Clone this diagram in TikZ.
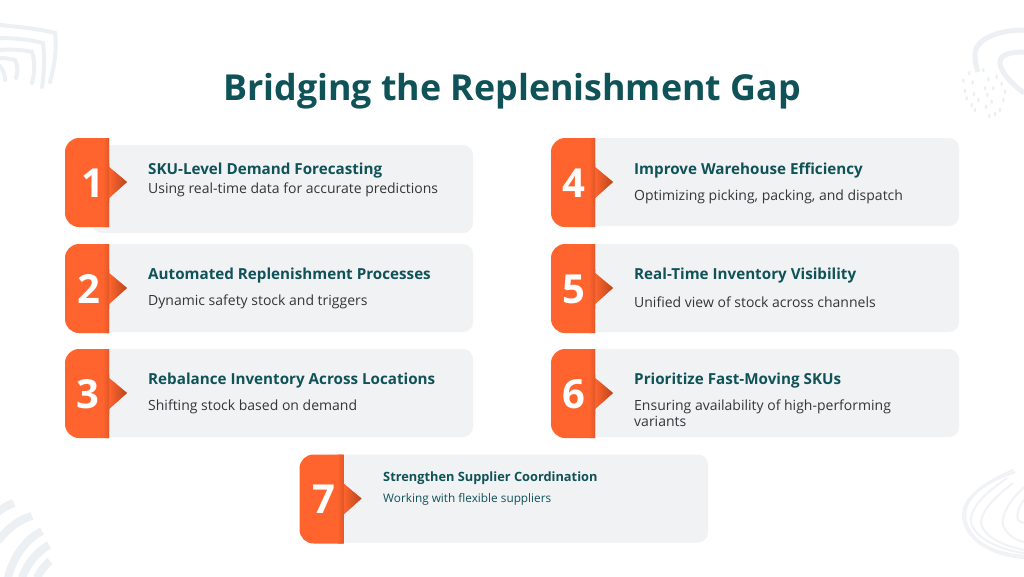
\documentclass[tikz,border=0pt]{standalone}
\usepackage{fontspec}
\setmainfont{Open Sans}
\definecolor{cardfill}{HTML}{F1F2F4}
\definecolor{orangeb}{HTML}{FF642E}
\definecolor{oranged}{HTML}{B8461E}
\definecolor{teal}{HTML}{0F5257}
\definecolor{bodytxt}{HTML}{333638}
\definecolor{deco}{HTML}{EDF0F3}
\definecolor{decolite}{HTML}{F0F2F5}
\tikzset{
  x=1pt,y=-1pt,
  card/.style={fill=cardfill,rounded corners=10pt,draw=none},
  num/.style={text=white,font=\fontsize{40}{40}\selectfont\bfseries,inner sep=0pt},
  head/.style={text=teal,anchor=west,inner sep=0pt,font=\fontsize{15.2}{18}\selectfont\bfseries},
  desc/.style={text=bodytxt,anchor=west,inner sep=0pt,align=left,font=\fontsize{14}{16.5}\selectfont},
  headsm/.style={text=teal,anchor=west,inner sep=0pt,font=\fontsize{12.8}{16}\selectfont\bfseries},
  descsm/.style={text=teal,anchor=west,inner sep=0pt,font=\fontsize{11.8}{14}\selectfont},
  title/.style={text=teal,inner sep=0pt,font=\fontsize{35.8}{44}\selectfont\bfseries},
  decoA/.style={draw=deco,line width=4pt,line cap=round},
  decoB/.style={draw=deco,line width=8pt},
  decoC/.style={draw=decolite,line width=2pt},
  decoD/.style={fill=deco,draw=none},
}
% #1 name, #2 left x of badge, #3 top y of badge, #4 number, #5 right edge of card, #6 card y offset, #7 digit x offset
\newcommand{\stepcard}[7]{%
  \fill[card] (#2+27,#3+#6) rectangle (#5,#3+#6+88);
  \fill[orangeb] (#2+44,#3) {[rounded corners=14pt] -- (#2,#3) -- (#2,#3+89)} -- (#2+44,#3+89)
     -- (#2+44,#3+60) -- (#2+62,#3+44) -- (#2+44,#3+29) -- cycle;
  \begin{scope}
    \clip (#2+30,#3) -- (#2+44,#3) -- (#2+44,#3+29) -- (#2+62,#3+44) -- (#2+44,#3+60) -- (#2+44,#3+89) -- (#2+30,#3+89) -- cycle;
    \shade[left color=orangeb,right color=orangeb!60!oranged] (#2+38,#3) rectangle (#2+44,#3+89);
    \shade[left color=orangeb,right color=oranged] (#2+44,#3+25) rectangle (#2+62,#3+64);
    \shade[left color=orangeb,right color=orangeb!55!oranged] (#2+38,#3+25) rectangle (#2+44,#3+64);
  \end{scope}
  \node[num] (#1) at (#2+#7,#3+45) {#4};
}
\begin{document}
\begin{tikzpicture}
\useasboundingbox (0,0) rectangle (1024,576);
\fill[white] (0,0) rectangle (1024,576);
% corner decoration, top left
\draw[decoA] (0,25) .. controls (20,27) and (40,29) .. (55,33) .. controls (57,50) and (54,68) .. (50,82);
\draw[decoA] (0,38) .. controls (15,38) and (32,40) .. (43,43) .. controls (45,58) and (44,74) .. (42,87);
\draw[decoA] (0,50) .. controls (12,49) and (24,50) .. (32,52) .. controls (35,62) and (35,72) .. (32,83);
\draw[decoA] (0,58) .. controls (6,58) and (11,59) .. (15,60) .. controls (18,66) and (18,72) .. (16,78);
\draw[decoA] (0,66) .. controls (3,70) and (5,75) .. (5,80);
% corner decoration, top right
\draw[decoB,line width=5pt] (1024,30) .. controls (1000,30) and (975,38) .. (975,55) .. controls (975,62) and (976,66) .. (978,72);
\draw[decoB,line width=5pt] (1024,52) .. controls (1012,52) and (1000,54) .. (1000,62) .. controls (1000,72) and (1012,84) .. (1024,93);
\foreach \dx/\dy in {40/182,45/213,50/235,58/160,68/187,72/222,65/255,75/270,85/240,100/150,115/178,105/205,112/225,108/260,118/288,135/282,125/245,130/205,140/170,155/192,160/240,165/215,150/270}
  \fill[decoD] (950+\dx/3,20+\dy/3) ellipse[x radius=1.3,y radius=2.2];
% corner decoration, bottom left
\draw[decoB] (-2,512) .. controls (3,508) and (8,505) .. (14,503);
\draw[decoB] (-2,541) .. controls (8,528) and (20,519) .. (32,516);
\draw[decoB] (8,578) .. controls (12,560) and (24,540) .. (42,531);
\draw[decoB] (22,578) .. controls (26,566) and (36,552) .. (49,545);
\draw[decoB] (37,578) .. controls (40,572) and (44,566) .. (50,561);
% corner decoration, bottom right
\foreach \o in {0,2.2}{
  \draw[decoC] (1013+\o,470+\o) .. controls (990,480) and (963+\o,495) .. (963+\o,515) .. controls (963+\o,535) and (985,555-\o) .. (1024,558-\o);
}
\draw[decoC] (1007,478) .. controls (990,490) and (970,505) .. (971,522) .. controls (974,538) and (1000,550) .. (1024,553);
\draw[decoC] (1013,483) .. controls (1000,493) and (980,510) .. (981,524) .. controls (985,538) and (1005,546) .. (1024,550);
\draw[decoC] (1024,487) .. controls (1010,500) and (1001,515) .. (1003,525) .. controls (1007,535) and (1015,540) .. (1024,542);
\draw[decoC] (1024,500) .. controls (1018,508) and (1016,515) .. (1018,520) .. controls (1020,522) and (1022,523) .. (1024,523);
% title
\node[title] (ttl) at (512,91) {Bridging the Replenishment Gap};
% cards
\stepcard{n1}{65}{138}{1}{473}{7}{28}
\stepcard{n2}{65}{244}{2}{473}{0}{24}
\stepcard{n3}{65}{349}{3}{473}{0}{23}
\stepcard{n4}{551}{138}{4}{959}{0}{23}
\stepcard{n5}{551}{244}{5}{959}{0}{23}
\stepcard{n6}{551}{349}{6}{959}{0}{23}
\stepcard{n7}{299.5}{454.5}{7}{708}{0}{24.5}
\node[head] (h1) at (148,170.5) {SKU-Level Demand Forecasting};
\node[desc] (d1) at (148,190) {Using real-time data for accurate predictions};
\node[head] (h2) at (148,275.5) {Automated Replenishment Processes};
\node[desc] (d2) at (148,302) {Dynamic safety stock and triggers};
\node[head] (h3) at (148,380.5) {Rebalance Inventory Across Locations};
\node[desc] (d3) at (148,407) {Shifting stock based on demand};
\node[head] (h4) at (634,170.5) {Improve Warehouse Efficiency};
\node[desc] (d4) at (634,197) {Optimizing picking, packing, and dispatch};
\node[head] (h5) at (634,275.5) {Real-Time Inventory Visibility};
\node[desc] (d5) at (634,302) {Unified view of stock across channels};
\node[head] (h6) at (634,380.5) {Prioritize Fast-Moving SKUs};
\node[desc] (d6) at (634,413) {Ensuring availability of high-performing\\variants};
\node[headsm] (h7) at (383,478) {Strengthen Supplier Coordination};
\node[descsm] (d7) at (383,499) {Working with flexible suppliers};
\end{tikzpicture}
\end{document}
